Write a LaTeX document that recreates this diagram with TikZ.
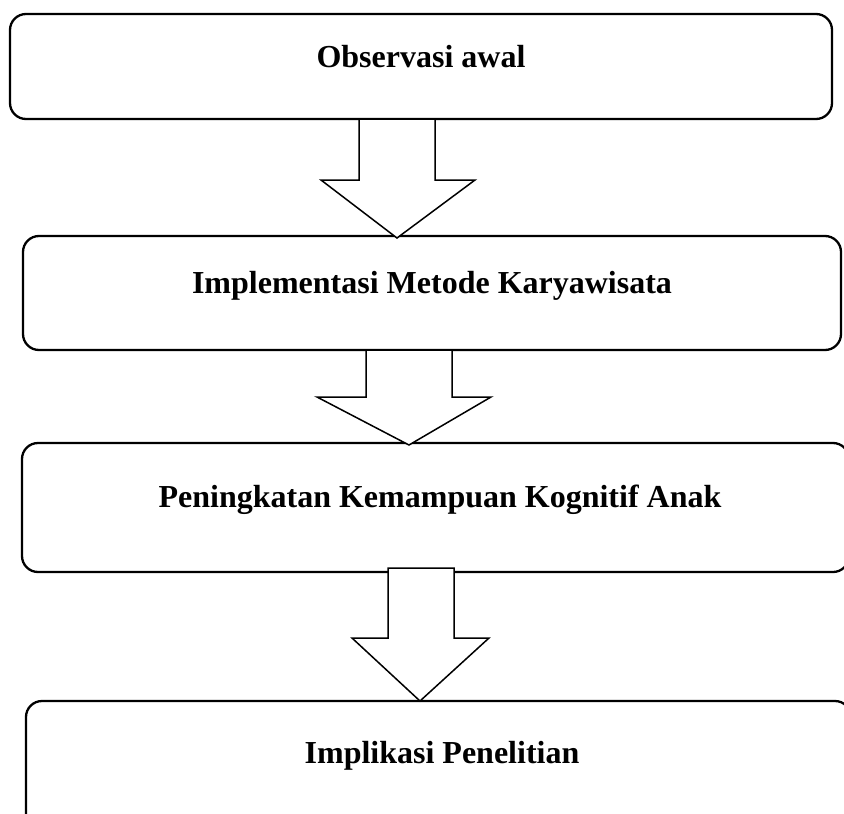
\documentclass[tikz,border=0pt]{standalone}
\usepackage{fontspec}
\setmainfont{Liberation Serif}
\usetikzlibrary{calc}
\begin{document}
\begin{tikzpicture}[x=1pt,y=-1pt,
  box/.style={draw=black,line width=2.3pt,rounded corners=16pt,fill=white,rectangle,inner sep=0pt,outer sep=0pt},
  lbl/.style={anchor=base,font=\bfseries\fontsize{32}{38}\selectfont,inner sep=0pt},
  blockarrow/.style={draw=black,line width=1.5pt,fill=white,line join=miter}]
\useasboundingbox (0,0) rectangle (844,814);
\fill[white] (0,0) rectangle (844,814);
% boxes
\node[box,minimum width=822pt,minimum height=105pt] (b1) at (421,66.5) {};
\node[box,minimum width=818pt,minimum height=114pt] (b2) at (432,293) {};
\node[box,minimum width=827pt,minimum height=129pt] (b3) at (435.5,507.5) {};
\node[box,minimum width=825pt,minimum height=139pt] (b4) at (438.5,770.5) {};
% labels
\node[lbl] (t1) at (421,67) {Observasi awal};
\node[lbl] (t2) at (432,293) {Implementasi Metode Karyawisata};
\node[lbl] (t3) at (440,507) {Peningkatan Kemampuan Kognitif Anak};
\node[lbl] (t4) at (442,763) {Implikasi Penelitian};
% block arrows (connectors from box to box)
\path let \p1=(b1.south), \p2=(b2.north) in
  [blockarrow] (359pt,\y1-1.2pt) -- (359pt,-180pt) -- (321pt,-180pt) -- (397pt,\y2-2pt)
  -- (475pt,-180pt) -- (435pt,-180pt) -- (435pt,\y1-1.2pt);
\path let \p1=(b2.south), \p2=(b3.north) in
  [blockarrow] (366pt,\y1-1.2pt) -- (366pt,-397pt) -- (317pt,-397pt) -- (409pt,\y2-2pt)
  -- (491pt,-397pt) -- (452pt,-397pt) -- (452pt,\y1-1.2pt);
\path let \p1=(b3.south), \p2=(b4.north) in
  [blockarrow] (388pt,\y1+4pt) -- (388pt,-638pt) -- (352pt,-638pt) -- (420pt,\y2)
  -- (489pt,-638pt) -- (454pt,-638pt) -- (454pt,\y1+4pt) -- cycle;
\end{tikzpicture}
\end{document}
